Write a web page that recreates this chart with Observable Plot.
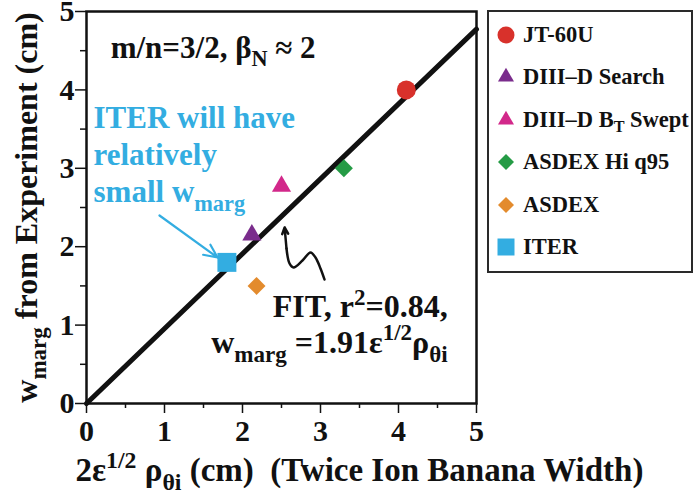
<!DOCTYPE html>
<html><head><meta charset="utf-8">
<script src="https://cdn.jsdelivr.net/npm/d3@7"></script>
<script src="https://cdn.jsdelivr.net/npm/@observablehq/plot@0.6"></script>
<style>
body{margin:0;background:#fff;}
#wrap{position:relative;width:693px;height:497px;font-family:"Liberation Serif","Times New Roman",serif;font-weight:bold;color:#111;}
#wrap > svg{position:absolute;left:0;top:0;}
#legend{position:absolute;left:487px;top:10px;width:206px;height:263px;box-sizing:border-box;border:2px solid #2a2a2a;background:#fff;}
.row{position:absolute;left:0;height:42px;display:flex;align-items:center;font-size:22.5px;white-space:nowrap;}
.row svg{margin-left:7px;margin-right:7px;flex:none;}
.row sub{font-size:0.72em;vertical-align:-0.3em;line-height:0;}
</style></head><body><div id="wrap"></div>
<script>
// ---- data ----
const seriesNames = ["JT-60U", "DIII\u2013D Search", "DIII\u2013D B_{T} Swept", "ASDEX Hi q95", "ASDEX", "ITER"];
const seriesX = [4.1, 2.12, 2.5, 3.3, 2.18, 1.8];
const seriesY = [4.0, 2.15, 2.77, 3.0, 1.5, 1.8];
const seriesColors = ["#d8312b", "#7a2c8c", "#d2288a", "#259b45", "#e38b2d", "#33ade1"];
const seriesSymbols = ["circle", "triangle", "triangle", "diamond2", "diamond2", "square"];
const fitSlope = 1.91 / 2;
const fitX = [0, 5];
const majorTicks = [0, 1, 2, 3, 4, 5];
const minorTicks = [0.5, 1.5, 2.5, 3.5, 4.5];
const xLabel = "2\u03b5^{1/2} \u03c1_{\u03b8i} (cm)\u00a0\u00a0(Twice Ion Banana Width)";
const yLabel = "w_{marg} from Experiment (cm)";
const modeLabel = "m/n=3/2, \u03b2_{N} \u2248 2";
const iterLabel = ["ITER will have", "relatively", "small w_{marg}"];
const fitLabel = ["FIT, r^{2}=0.84,", "w_{marg} =1.91\u03b5^{1/2}\u03c1_{\u03b8i}"];
// annotation anchors (data units)
const squiggleX = [3.051, 3.0, 2.936, 2.872, 2.769, 2.654, 2.603, 2.564];
const squiggleY = [1.582, 1.722, 1.862, 1.926, 1.824, 1.735, 1.786, 1.977];
const squiggleTip = [2.54, 2.245];
const iterArrow = {x1: 0.936, y1: 2.398, x2: 1.68, y2: 1.862};

// ---- build ----
const rows = seriesNames.map((n, i) => ({name: n, x: seriesX[i], y: seriesY[i], sym: seriesSymbols[i]}));
const symR = {circle: 9.5, triangle: 7.1, diamond2: 8.1, square: 10.7};
const fitData = fitX.map(x => ({x, y: fitSlope * x}));
const squiggle = squiggleX.map((x, i) => ({x, y: squiggleY[i]}));
const ink = "#111";
const F = "Liberation Serif";

const dotMarks = Object.keys(symR).map(k =>
  Plot.dot(rows.filter(d => d.sym === k), {x: "x", y: "y", fill: "name", symbol: k, r: symR[k]}));

const chart = Plot.plot({
  width: 693, height: 497,
  marginLeft: 86, marginRight: 217, marginTop: 11, marginBottom: 94,
  x: {domain: [0, 5]},
  y: {domain: [0, 5]},
  color: {domain: seriesNames, range: seriesColors},
  style: {fontFamily: F, fontWeight: "bold", fontSize: "30px", color: ink, background: "transparent", overflow: "visible"},
  marks: [
    Plot.axisX({ticks: minorTicks, tickSize: 5, tickFormat: () => "", label: null, strokeWidth: 1.5}),
    Plot.axisY({ticks: minorTicks, tickSize: 6, tickFormat: () => "", label: null, strokeWidth: 1.5}),
    Plot.axisX({ticks: majorTicks, tickSize: 10, tickPadding: 6, tickFormat: d => String(d), label: null, strokeWidth: 1.5, fontSize: 30}),
    Plot.axisY({ticks: majorTicks, tickSize: 11, tickPadding: 1, tickFormat: d => String(d), label: null, strokeWidth: 1.5, fontSize: 30}),
    Plot.frame({stroke: ink, strokeWidth: 2.5}),
    Plot.line(fitData, {x: "x", y: "y", stroke: ink, strokeWidth: 5}),
    ...dotMarks,
    Plot.line(squiggle, {x: "x", y: "y", curve: "catmull-rom", stroke: ink, strokeWidth: 2.5}),
    Plot.arrow([0], {x1: () => squiggleX[squiggleX.length - 1], y1: () => squiggleY[squiggleY.length - 1], x2: () => squiggleTip[0], y2: () => squiggleTip[1], stroke: ink, strokeWidth: 2.5, headLength: 12, headAngle: 50, bend: 0}),
    Plot.arrow([iterArrow], {x1: "x1", y1: "y1", x2: "x2", y2: "y2", stroke: "#33ade1", strokeWidth: 2.2, headLength: 10, headAngle: 50, bend: 0}),
    Plot.text([modeLabel], {text: d => d, x: () => 0.31, y: () => 4.41, textAnchor: "start", lineAnchor: "bottom", fontSize: 31, fill: ink}),
    Plot.text([iterLabel.join("\n")], {text: d => d, x: () => 0.09, y: () => 2.564, textAnchor: "start", lineAnchor: "bottom", lineHeight: 1.2, fontSize: 31, fill: "#33ade1"}),
    Plot.text([fitLabel.join("\n")], {text: d => d, x: () => 4.63, y: () => 0.65, textAnchor: "end", lineAnchor: "bottom", lineHeight: 1.1, fontSize: 32, fill: ink}),
    Plot.text([yLabel], {text: d => d, frameAnchor: "left", dx: -60, rotate: -90, textAnchor: "middle", lineAnchor: "middle", fontSize: 32, fill: ink}),
    Plot.text([xLabel], {text: d => d, frameAnchor: "bottom-left", dx: -11, dy: 77, textAnchor: "start", lineAnchor: "bottom", fontSize: 33, fill: ink})
  ]
});

const wrap = document.getElementById("wrap");
wrap.appendChild(chart);

function richify(root) {
  const ns = "http://www.w3.org/2000/svg";
  root.querySelectorAll("text, tspan").forEach(el => {
    if (el.childNodes.length !== 1 || el.firstChild.nodeType !== 3) return;
    const s = el.textContent;
    if (!/[_^]\{/.test(s)) return;
    const fs = parseFloat(getComputedStyle(el).fontSize);
    const parts = s.split(/([_^]\{[^}]*\})/).filter(p => p);
    el.textContent = "";
    let shift = 0;
    for (const p of parts) {
      const t = document.createElementNS(ns, "tspan");
      let off = 0, txt = p, small = false;
      if (p.startsWith("_{")) { off = 0.28 * fs; txt = p.slice(2, -1); small = true; }
      else if (p.startsWith("^{")) { off = -0.38 * fs; txt = p.slice(2, -1); small = true; }
      if (off - shift) t.setAttribute("dy", off - shift);
      shift = off;
      if (small) t.setAttribute("font-size", 0.72 * fs);
      t.textContent = txt;
      el.appendChild(t);
    }
  });
}
richify(chart);

// legend
const toHTML = s => s.replace(/_\{([^}]*)\}/g, "<sub>$1</sub>");
const legend = document.createElement("div");
legend.id = "legend";
const legendSize = {circle: 227, triangle: 111, diamond2: 163, square: 289};
seriesNames.forEach((n, i) => {
  const row = document.createElement("div");
  row.className = "row";
  row.style.top = (23 + i * 42.4 - 21) + "px";
  const sym = {circle: d3.symbolCircle, triangle: d3.symbolTriangle, diamond2: d3.symbolDiamond2, square: d3.symbolSquare}[seriesSymbols[i]];
  const path = d3.symbol(sym, legendSize[seriesSymbols[i]])();
  row.innerHTML = `<svg width="20" height="20" viewBox="-10 -10 20 20"><path d="${path}" fill="${seriesColors[i]}"/></svg><span>${toHTML(n)}</span>`;
  legend.appendChild(row);
});
wrap.appendChild(legend);
</script></body></html>
